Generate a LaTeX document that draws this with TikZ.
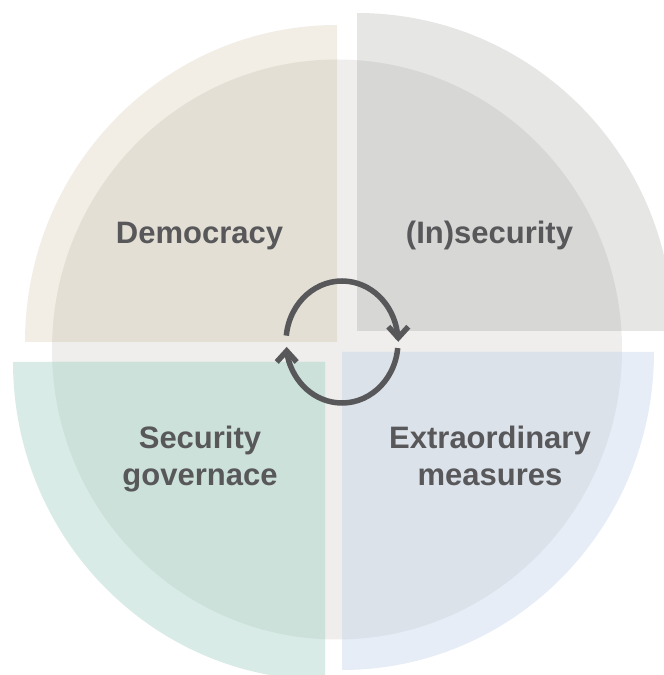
\documentclass[tikz,border=0pt]{standalone}
\usepackage{fontspec}
\setmainfont{Liberation Sans}
\usetikzlibrary{calc}
\definecolor{circfill}{HTML}{EFEEEC}
\definecolor{demoOut}{HTML}{F2EEE6}
\definecolor{demoIn}{HTML}{E3DFD5}
\definecolor{insOut}{HTML}{E6E6E5}
\definecolor{insIn}{HTML}{D7D7D6}
\definecolor{govOut}{HTML}{D9EBE7}
\definecolor{govIn}{HTML}{CCE1DA}
\definecolor{extOut}{HTML}{E6EDF7}
\definecolor{extIn}{HTML}{DBE2EA}
\definecolor{ink}{HTML}{58585A}
\begin{document}
\begin{tikzpicture}[x=1pt,y=1pt,
  lbl/.style={inner sep=0pt, text=ink, font=\bfseries\fontsize{31}{37}\selectfont, align=center},
  cyc/.style={draw=ink, line width=5.5pt, line cap=butt},
  chev/.style={draw=ink, line width=5.5pt, line join=miter, line cap=butt}]
\useasboundingbox (0,0) rectangle (664,675);
\clip (0,0) rectangle (664,675);
% central disc
\fill[circfill] (337,325.5) ellipse [x radius=285, y radius=290];
% outer quarter wedges
\fill[demoOut] (337,333) -- +(90:312 and 317) arc[start angle=90, end angle=180, x radius=312, y radius=317] -- cycle;
\fill[insOut] (357,344) -- +(0:316 and 318) arc[start angle=0, end angle=90, x radius=316, y radius=318] -- cycle;
\fill[govOut] (325,313) -- +(180:312 and 318) arc[start angle=180, end angle=270, x radius=312, y radius=318] -- cycle;
\fill[extOut] (342,323) -- +(270:312 and 318) arc[start angle=270, end angle=360, x radius=312, y radius=318] -- cycle;
% parts of the wedges inside the disc
\begin{scope}
  \clip (337,325.5) ellipse [x radius=285, y radius=290];
  \fill[demoIn] (337,333) -- +(90:312 and 317) arc[start angle=90, end angle=180, x radius=312, y radius=317] -- cycle;
  \fill[insIn] (357,344) -- +(0:316 and 318) arc[start angle=0, end angle=90, x radius=316, y radius=318] -- cycle;
  \fill[govIn] (325,313) -- +(180:312 and 318) arc[start angle=180, end angle=270, x radius=312, y radius=318] -- cycle;
  \fill[extIn] (342,323) -- +(270:312 and 318) arc[start angle=270, end angle=360, x radius=312, y radius=318] -- cycle;
\end{scope}
% labels
\node[lbl, anchor=base] (dem) at (199.5,431.5) {Democracy};
\node[lbl, anchor=base] (ins) at (489.5,431.5) {(In)security};
\node[lbl, anchor=north] (gov) at (200,249) {Security\\governace};
\node[lbl, anchor=north] (ext) at (490,249) {Extraordinary\\measures};
% cycle icon
\coordinate (ac) at (342,333);
\coordinate (tipR) at (398.3,337.3);
\coordinate (tipL) at (286.7,324);
\draw[cyc] (ac) ++(174:56 and 61) arc[start angle=174, end angle=3, x radius=56, y radius=61];
\draw[cyc] (ac) ++(-5.7:56 and 61) arc[start angle=-5.7, end angle=-172, x radius=56, y radius=61];
\draw[chev] ($(tipR)+(-10,11)$) -- (tipR) -- ($(tipR)+(10,11)$);
\draw[chev] ($(tipL)+(-10,-11)$) -- (tipL) -- ($(tipL)+(10,-11)$);
\end{tikzpicture}
\end{document}
